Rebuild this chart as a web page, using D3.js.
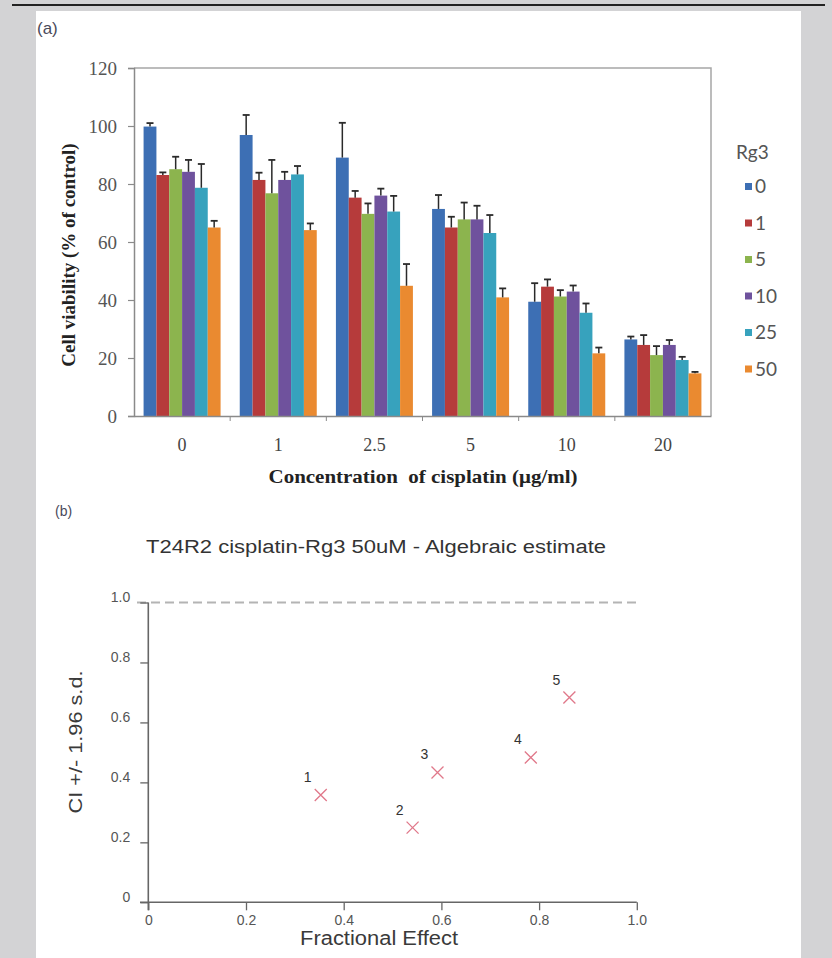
<!DOCTYPE html>
<html>
<head>
<meta charset="utf-8">
<script src="https://cdn.jsdelivr.net/npm/d3@7"></script>
<style>
  html, body { margin: 0; padding: 0; background: #d3d3d5; }
  svg { display: block; }
  .pre { white-space: pre; }
</style>
</head>
<body>
<svg id="fig" width="832" height="958"></svg>
<script>
// ---- Panel (a): cell viability by cisplatin concentration and Rg3 dose ----
const cisplatin = ["0", "1", "2.5", "5", "10", "20"];
const rg3Doses = ["0", "1", "5", "10", "25", "50"];

const rg3_0  = [99.8, 96.9, 89.1, 71.4, 39.4, 26.4];
const rg3_1  = [83.1, 81.4, 75.3, 65.0, 44.6, 24.5];
const rg3_5  = [85.1, 76.8, 69.7, 67.8, 41.2, 21.0];
const rg3_10 = [84.2, 81.4, 76.0, 67.8, 42.9, 24.5];
const rg3_25 = [78.7, 83.3, 70.5, 63.1, 35.6, 19.3];
const rg3_50 = [65.0, 64.1, 44.9, 40.9, 21.6, 14.7];

const sd_0  = [1.2, 6.9, 12.0, 4.8, 6.4, 1.0];
const sd_1  = [0.9, 2.5, 2.3, 3.7, 2.5, 3.4];
const sd_5  = [4.3, 11.5, 3.6, 5.8, 2.2, 3.1];
const sd_10 = [4.1, 2.8, 2.4, 4.7, 2.1, 1.7];
const sd_25 = [8.2, 2.9, 5.4, 6.2, 3.2, 1.1];
const sd_50 = [2.3, 2.3, 7.5, 3.1, 2.0, 0.5];

const viabilityTicks = [0, 20, 40, 60, 80, 100, 120];

// ---- Panel (b): combination index vs fractional effect ----
const fractionalEffect = [0.353, 0.541, 0.592, 0.783, 0.862];
const combinationIndex = [0.358, 0.249, 0.433, 0.483, 0.683];
const pointLabels = ["1", "2", "3", "4", "5"];
const ciTicks = [0, 0.2, 0.4, 0.6, 0.8, 1.0];
const feTicks = [0, 0.2, 0.4, 0.6, 0.8, 1.0];

const barColors = ["#3d6fb4", "#b63b3b", "#8cb44e", "#6f529d", "#37a2bd", "#ea8a30"];

const svg = d3.select("#fig");

// page furniture
svg.append("rect").attr("x", 0).attr("y", 0).attr("width", 832).attr("height", 958).attr("fill", "#d3d3d5");
svg.append("line").attr("x1", 12).attr("x2", 825).attr("y1", 5).attr("y2", 5)
  .attr("stroke", "#222").attr("stroke-width", 2.2);
svg.append("rect").attr("x", 36).attr("y", 11).attr("width", 765).attr("height", 947).attr("fill", "#fff");

svg.append("text").attr("x", 37).attr("y", 34).text("(a)")
  .attr("font-family", "Liberation Sans, Arial, sans-serif").attr("font-size", 17).attr("fill", "#4a4a5a");
svg.append("text").attr("x", 55).attr("y", 516).text("(b)")
  .attr("font-family", "Liberation Sans, Arial, sans-serif").attr("font-size", 14).attr("fill", "#4a4a5a");

// ===================== Panel (a) =====================
const A = { left: 134, right: 711, top: 68, bottom: 416 };
const series = [rg3_0, rg3_1, rg3_5, rg3_10, rg3_25, rg3_50];
const sds = [sd_0, sd_1, sd_5, sd_10, sd_25, sd_50];

const x0 = d3.scaleBand().domain(cisplatin).range([A.left, A.right]).padding(0);
const clusterPad = (x0.bandwidth() - 77) / 2;
const x1 = d3.scaleBand().domain(rg3Doses).range([clusterPad, x0.bandwidth() - clusterPad]).padding(0);
const yA = d3.scaleLinear().domain([0, 120]).range([A.bottom, A.top]);

const gA = svg.append("g");

// plot area frame (top and right)
gA.append("path")
  .attr("d", `M${A.left},${A.top}H${A.right}V${A.bottom}`)
  .attr("fill", "none").attr("stroke", "#a6a6a6").attr("stroke-width", 1.5);

// bars
const groups = gA.selectAll("g.grp").data(cisplatin).join("g")
  .attr("class", "grp").attr("transform", d => `translate(${x0(d)},0)`);

groups.each(function (c, ci) {
  const g = d3.select(this);
  rg3Doses.forEach((dose, si) => {
    const v = series[si][ci];
    g.append("rect")
      .attr("x", x1(dose)).attr("width", x1.bandwidth())
      .attr("y", yA(v)).attr("height", yA(0) - yA(v))
      .attr("fill", barColors[si]);
  });
  rg3Doses.forEach((dose, si) => {
    const v = series[si][ci], e = sds[si][ci];
    const cx = x1(dose) + x1.bandwidth() / 2;
    g.append("line").attr("x1", cx).attr("x2", cx).attr("y1", yA(v)).attr("y2", yA(v + e))
      .attr("stroke", "#2a2a2a").attr("stroke-width", 1.5);
    g.append("line").attr("x1", cx - 3.5).attr("x2", cx + 3.5).attr("y1", yA(v + e)).attr("y2", yA(v + e))
      .attr("stroke", "#2a2a2a").attr("stroke-width", 1.8);
  });
});

// y axis
const yAxisA = d3.axisLeft(yA).tickValues(viabilityTicks).tickSize(6).tickPadding(11).tickFormat(d3.format("d"));
const gy = gA.append("g").attr("transform", `translate(${A.left},0)`).call(yAxisA);
gy.select(".domain").attr("stroke", "#8a8a8a").attr("stroke-width", 1.5);
gy.selectAll(".tick line").attr("stroke", "#8a8a8a").attr("stroke-width", 1.2);
gy.selectAll(".tick text").attr("font-family", "Liberation Serif, Times New Roman, serif")
  .attr("font-size", 19).attr("fill", "#555");

// x axis: labels centred on groups, ticks on group boundaries
const xAxisA = d3.axisBottom(x0).tickSize(0).tickPadding(22);
const gx = gA.append("g").attr("transform", `translate(0,${A.bottom})`).call(xAxisA);
gx.select(".domain").attr("stroke", "#8a8a8a").attr("stroke-width", 1.5);
gx.selectAll(".tick text").attr("font-family", "Liberation Serif, Times New Roman, serif")
  .attr("font-size", 18).attr("fill", "#444");
gx.selectAll("line.bound").data(cisplatin.slice(1)).join("line").attr("class", "bound")
  .attr("x1", d => x0(d)).attr("x2", d => x0(d)).attr("y1", 0).attr("y2", 5)
  .attr("stroke", "#8a8a8a").attr("stroke-width", 1);

// axis titles
gA.append("text").attr("class", "pre").attr("x", 423).attr("y", 483).attr("text-anchor", "middle")
  .attr("font-family", "Liberation Serif, Times New Roman, serif").attr("font-weight", "bold")
  .attr("font-size", 19).attr("fill", "#222")
  .attr("textLength", 309).attr("lengthAdjust", "spacingAndGlyphs")
  .text("Concentration  of cisplatin (\u03bcg/ml)");
gA.append("text").attr("transform", "translate(75,255) rotate(-90)").attr("text-anchor", "middle")
  .attr("font-family", "Liberation Serif, Times New Roman, serif").attr("font-weight", "bold")
  .attr("font-size", 19).attr("fill", "#222")
  .text("Cell viability (% of control)");

// legend
const leg = gA.append("g");
leg.append("text").attr("x", 736).attr("y", 159).text("Rg3")
  .attr("font-family", "Lato, Open Sans, sans-serif").attr("font-size", 19).attr("fill", "#555");
const items = leg.selectAll("g.item").data(rg3Doses).join("g").attr("class", "item")
  .attr("transform", (d, i) => `translate(745,${186.5 + i * 36.5})`);
items.append("rect").attr("x", 0).attr("y", -3.5).attr("width", 7).attr("height", 7)
  .attr("fill", (d, i) => barColors[i]);
items.append("text").attr("x", 10).attr("y", 0).attr("dy", "0.35em").text(d => d)
  .attr("font-family", "Lato, Open Sans, sans-serif").attr("font-size", 19).attr("fill", "#555");

// ===================== Panel (b) =====================
const B = { left: 148.3, right: 636.8, top: 602.5, bottom: 902.3 };
const xB = d3.scaleLinear().domain([0, 1]).range([B.left, B.right]);
const yB = d3.scaleLinear().domain([0, 1]).range([B.bottom, B.top]);
const gB = svg.append("g");

gB.append("text").attr("x", 376).attr("y", 553).attr("text-anchor", "middle")
  .attr("font-family", "Liberation Sans, Arial, sans-serif").attr("font-size", 18).attr("fill", "#333")
  .attr("textLength", 460).attr("lengthAdjust", "spacingAndGlyphs")
  .text("T24R2 cisplatin-Rg3 50uM - Algebraic estimate");

// reference line CI = 1
gB.append("line").attr("x1", 137).attr("x2", xB(1)).attr("y1", yB(1)).attr("y2", yB(1))
  .attr("stroke", "#b4b4b4").attr("stroke-width", 2.2).attr("stroke-dasharray", "9,5");

const fmtB = d => d === 0 ? "0" : d3.format(".1f")(d);
const yAxisB = d3.axisLeft(yB).tickValues(ciTicks).tickSize(8).tickPadding(10).tickFormat(fmtB);
const gyB = gB.append("g").attr("transform", `translate(${B.left},0)`).call(yAxisB);
gyB.select(".domain").remove();
gyB.selectAll(".tick line").attr("stroke", "#666").attr("stroke-width", 1.3);
gyB.selectAll(".tick text").attr("dy", "-0.05em")
  .attr("font-family", "Liberation Sans, Arial, sans-serif").attr("font-size", 14).attr("fill", "#555");
gB.append("line").attr("x1", B.left).attr("x2", B.left).attr("y1", B.top).attr("y2", B.bottom + 8)
  .attr("stroke", "#666").attr("stroke-width", 1.6);

const xAxisB = d3.axisBottom(xB).tickValues(feTicks).tickSize(8).tickPadding(5).tickFormat(fmtB);
const gxB = gB.append("g").attr("transform", `translate(0,${B.bottom})`).call(xAxisB);
gxB.select(".domain").remove();
gxB.selectAll(".tick line").attr("stroke", "#666").attr("stroke-width", 1.3);
gxB.selectAll(".tick text")
  .attr("font-family", "Liberation Sans, Arial, sans-serif").attr("font-size", 14).attr("fill", "#555");
gB.append("line").attr("x1", 140).attr("x2", B.right).attr("y1", B.bottom).attr("y2", B.bottom)
  .attr("stroke", "#666").attr("stroke-width", 1.6);

gB.append("text").attr("x", 379).attr("y", 945).attr("text-anchor", "middle")
  .attr("font-family", "Liberation Sans, Arial, sans-serif").attr("font-size", 20).attr("fill", "#3a3a3a")
  .attr("textLength", 158).attr("lengthAdjust", "spacingAndGlyphs")
  .text("Fractional Effect");
gB.append("text").attr("transform", "translate(82,742) rotate(-90)").attr("text-anchor", "middle")
  .attr("font-family", "Liberation Sans, Arial, sans-serif").attr("font-size", 19).attr("fill", "#3a3a3a")
  .attr("textLength", 143).attr("lengthAdjust", "spacingAndGlyphs")
  .text("CI +/- 1.96 s.d.");

// points
const pts = gB.selectAll("g.pt").data(fractionalEffect).join("g").attr("class", "pt")
  .attr("transform", (d, i) => `translate(${xB(d)},${yB(combinationIndex[i])})`);
pts.append("path").attr("d", "M-6,-6L6,6M-6,6L6,-6")
  .attr("stroke", "#e0788a").attr("stroke-width", 1.3).attr("fill", "none");
pts.append("text").attr("x", -13).attr("y", -13).attr("text-anchor", "middle")
  .attr("font-family", "Liberation Sans, Arial, sans-serif").attr("font-size", 14).attr("fill", "#333")
  .text((d, i) => pointLabels[i]);
</script>
</body>
</html>
